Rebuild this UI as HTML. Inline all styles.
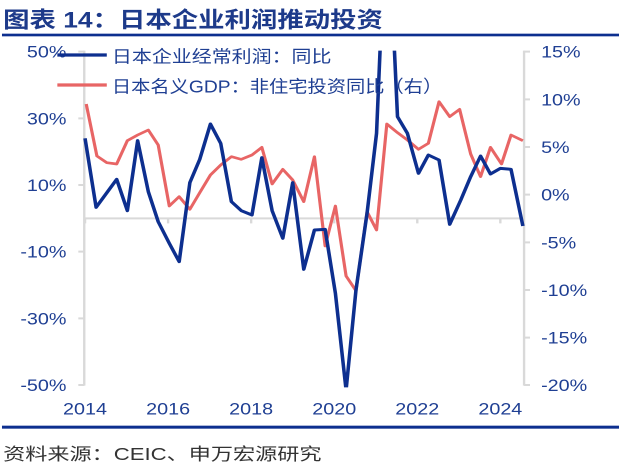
<!DOCTYPE html>
<html><head><meta charset="utf-8"><style>html,body{margin:0;padding:0;background:#fff;width:619px;height:466px;overflow:hidden}</style></head>
<body>
<svg width="619" height="466" viewBox="0 0 1565 1398" preserveAspectRatio="none" xmlns="http://www.w3.org/2000/svg" style="display:block;font-family:'Liberation Sans','Noto Sans CJK SC',sans-serif">
<defs><clipPath id="c"><rect x="0" y="152" width="1565" height="1010"/></clipPath></defs>
<text x="8" y="82" font-size="66" font-weight="bold" fill="#1d3a8a" textLength="960" lengthAdjust="spacingAndGlyphs">图表 14：日本企业利润推动投资</text>
<rect x="5" y="101" width="1560" height="8" fill="#0d2f8f"/>
<g stroke="#d9d9d9" stroke-width="6" fill="none">
<line x1="213" y1="152" x2="213" y2="1157"/>
<line x1="1325" y1="152" x2="1325" y2="1157"/>
<line x1="213" y1="655" x2="1325" y2="655"/>
<path d="M198 155H213M198 355H213M198 555H213M198 755H213M198 955H213M198 1155H213"/>
<path d="M1325 155H1340M1325 298H1340M1325 441H1340M1325 584H1340M1325 727H1340M1325 870H1340M1325 1013H1340M1325 1155H1340"/>
<path d="M215 655V670M425 655V670M635 655V670M845 655V670M1055 655V670M1265 655V670"/>
</g>
<g font-size="50" fill="#1f3f93" text-anchor="end">
<text x="168" y="173">50%</text><text x="168" y="373">30%</text><text x="168" y="573">10%</text>
<text x="168" y="773">-10%</text><text x="168" y="973">-30%</text><text x="168" y="1173">-50%</text>
</g>
<g font-size="50" fill="#1f3f93">
<text x="1368" y="173">15%</text><text x="1368" y="316">10%</text><text x="1368" y="459">5%</text>
<text x="1368" y="602">0%</text><text x="1368" y="745">-5%</text><text x="1368" y="888">-10%</text>
<text x="1368" y="1031">-15%</text><text x="1368" y="1173">-20%</text>
</g>
<g font-size="50" fill="#1f3f93" text-anchor="middle">
<text x="215" y="1243">2014</text><text x="425" y="1243">2016</text><text x="635" y="1243">2018</text>
<text x="845" y="1243">2020</text><text x="1055" y="1243">2022</text><text x="1265" y="1243">2024</text>
</g>
<polyline fill="none" stroke="#e86565" stroke-width="8" stroke-linejoin="round" points="218,312 245,468 270,488 295,492 322,422 348,405 375,390 400,435 428,618 453,590 480,628 505,578 532,525 558,495 585,470 610,478 637,465 662,442 688,552 715,508 740,540 768,605 795,470 822,738 848,618 875,828 900,872 928,635 952,690 978,372 1005,398 1030,420 1058,448 1083,430 1110,305 1137,350 1162,328 1190,462 1215,530 1240,442 1268,492 1292,405 1322,422"/>
<polyline clip-path="url(#c)" fill="none" stroke="#0d2f8f" stroke-width="9" stroke-linejoin="round" points="215,415 243,622 295,538 322,632 348,422 375,575 400,665 428,730 453,785 480,548 505,478 532,372 558,430 585,605 610,632 637,645 662,473 688,632 715,715 740,548 768,808 795,690 822,688 848,880 875,1170 900,870 928,640 952,400 962,120 996,120 1005,350 1030,400 1058,520 1083,465 1110,480 1137,673 1165,600 1190,530 1215,468 1240,522 1265,505 1292,508 1322,678"/>
<line x1="145" y1="165" x2="270" y2="165" stroke="#0d2f8f" stroke-width="10"/>
<line x1="145" y1="255" x2="270" y2="255" stroke="#e86565" stroke-width="10"/>
<text x="283" y="188" font-size="52" fill="#1f3f93" textLength="555" lengthAdjust="spacingAndGlyphs">日本企业经常利润：同比</text>
<text x="283" y="278" font-size="52" fill="#1f3f93" textLength="835" lengthAdjust="spacingAndGlyphs">日本名义GDP：非住宅投资同比（右）</text>
<rect x="5" y="1277" width="1560" height="9" fill="#0d2f8f"/>
<text x="8" y="1380" font-size="52" fill="#333" textLength="805" lengthAdjust="spacingAndGlyphs">资料来源：CEIC、申万宏源研究</text>
</svg>
</body></html>
